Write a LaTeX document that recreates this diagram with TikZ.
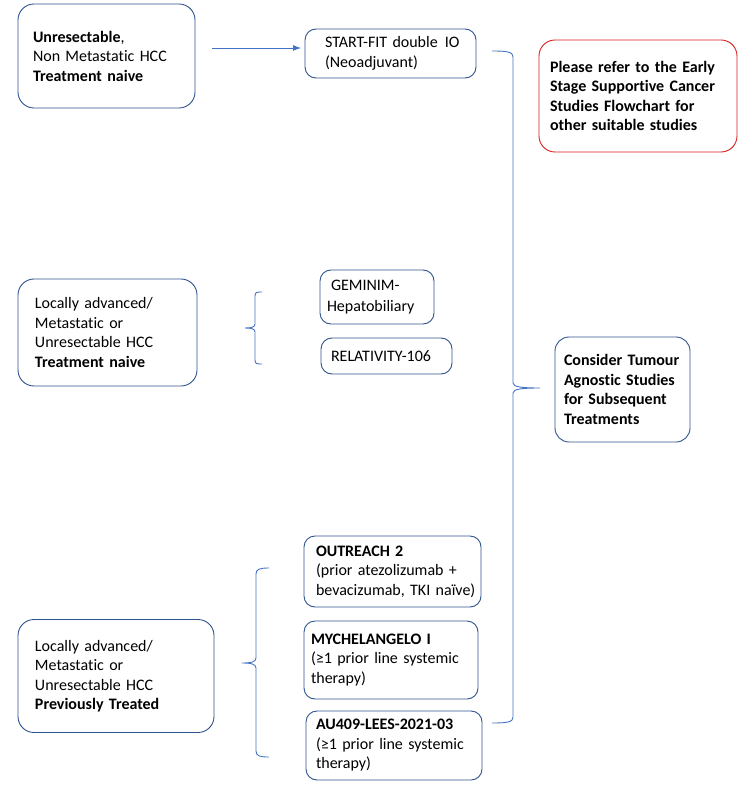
\documentclass[tikz,border=0pt]{standalone}
\usepackage{fontspec}
\setmainfont{Carlito}[Ligatures={NoCommon,NoContextual}]
\usetikzlibrary{arrows.meta}
\definecolor{boxc}{HTML}{2F528F}
\definecolor{bracec}{HTML}{4472C4}
\definecolor{redc}{HTML}{D42020}
\newcommand{\fs}{\fontsize{16}{19.5}\selectfont}
\newcommand{\ls}[1]{\leftskip=#1pt\relax}
\tikzset{
  box/.style={draw=boxc, line width=0.9pt, rounded corners=11pt, align=left, font=\fs, inner ysep=0pt, inner xsep=4pt, text=black},
  redbox/.style={box, draw=redc, rounded corners=16pt},
  bigbox/.style={box, rounded corners=16pt},
  bracel/.style={draw=bracec, line width=0.9pt},
  arr/.style={draw=bracec, line width=0.9pt, -{Latex[length=8pt,width=6pt]}}
}
\begin{document}
\begin{tikzpicture}[x=1pt,y=-1pt]
\useasboundingbox (0,0) rectangle (746,799);
% left boxes
\node[bigbox, text width=169pt, minimum height=104pt] (b1) at (106.5,56)
  {\ls{11}\textbf{Unresectable},\\Non Metastatic HCC\\\textbf{Treatment naive}\par};
\node[bigbox, text width=171pt, minimum height=107pt] (b2) at (107.5,332.5)
  {\ls{13}Locally advanced/\\Metastatic or\\Unresectable HCC\\\textbf{Treatment naive}\par};
\node[bigbox, text width=188pt, minimum height=113pt] (b3) at (116,676)
  {\ls{13}Locally advanced/\\Metastatic or\\Unresectable HCC\\\textbf{Previously Treated}\par};
% middle boxes
\node[box, text width=163pt, minimum height=49pt] (sf) at (390.5,53.5)
  {\ls{16}START-FIT double\hspace{7pt}IO\\(Neoadjuvant)\par};
\node[box, text width=106pt, minimum height=54pt] (gem) at (377,297)
  {\ls{3}\hspace{4pt}GEMINIM-\\[2pt]Hepatobiliary\par};
\node[box, text width=123pt, minimum height=36pt] (rel) at (386.5,356)
  {\ls{6}RELATIVITY-106\par};
\node[box, text width=169pt, minimum height=71pt] (out) at (392.5,571.5)
  {\ls{8}\textbf{OUTREACH 2}\\(prior atezolizumab +\\bevacizumab, TKI naïve)\par};
\node[box, text width=166pt, minimum height=78pt] (my) at (391,660)
  {\ls{3}\textbf{MYCHELANGELO I}\\(≥1 prior line systemic\\therapy)\par};
\node[box, text width=168pt, minimum height=69pt] (au) at (394,745.5)
  {\ls{6}\textbf{AU409-LEES-2021-03}\\(≥1 prior line systemic\\therapy)\par};
% right boxes
\node[redbox, text width=190pt, minimum height=112pt] (red) at (638,96)
  {\ls{7}\textbf{Please refer to the Early}\\\textbf{Stage Supportive Cancer}\\\textbf{Studies Flowchart for}\\\textbf{other suitable studies}\par};
\node[box, rounded corners=14pt, text width=127pt, minimum height=105pt] (con) at (622.5,389.5)
  {\ls{5}\textbf{Consider Tumour}\\\textbf{Agnostic Studies}\\\textbf{for Subsequent}\\\textbf{Treatments}\par};
% arrow
\coordinate (a1) at (212,48);
\coordinate (a2) at (301,48);
\draw[arr] (a1) -- (a2);
% small brace (middle)
\coordinate (m1) at (262,292);
\coordinate (mt) at (245,328);
\coordinate (m2) at (262,364);
\draw[bracel] (m1) .. controls (257,292) and (255,292) .. (255,296) -- (255,324)
  .. controls (255,327) and (252,328) .. (mt)
  .. controls (252,328) and (255,329) .. (255,332) -- (255,360)
  .. controls (255,364) and (257,364) .. (m2);
% bottom brace
\coordinate (l1) at (269,568);
\coordinate (lt) at (242,663);
\coordinate (l2) at (269,757);
\draw[bracel] (l1) .. controls (260,568) and (256,569) .. (256,574) -- (256,658)
  .. controls (256,662) and (251,663) .. (lt)
  .. controls (251,663) and (256,664) .. (256,668) -- (256,751)
  .. controls (256,756) and (260,757) .. (l2);
% big right brace
\coordinate (r1) at (492,51);
\coordinate (rt) at (540,388);
\coordinate (r2) at (492,723);
\draw[bracel] (r1) .. controls (508,51) and (513,52) .. (513,57) -- (513,383)
  .. controls (513,387) and (522,388) .. (rt)
  .. controls (522,388) and (513,389) .. (513,393) -- (513,717)
  .. controls (513,722) and (508,723) .. (r2);
\end{tikzpicture}
\end{document}
